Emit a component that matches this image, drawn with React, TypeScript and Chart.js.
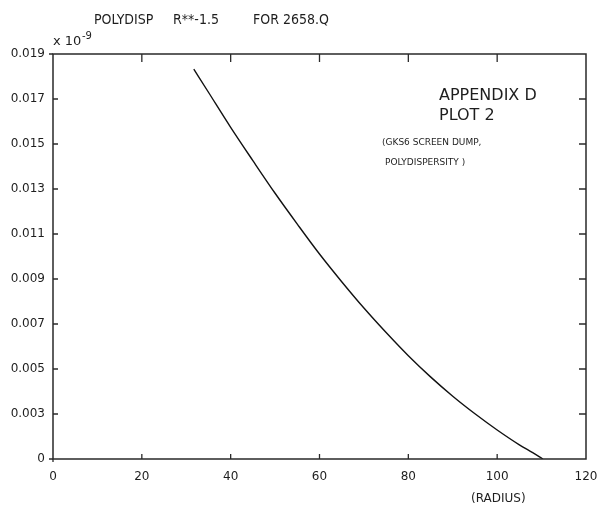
import React, { useEffect, useRef } from "react";
import { Chart, registerables } from "chart.js";

Chart.register(...registerables);

// ---- data ----
const radius = [31.7, 35, 40, 45, 50, 55, 60, 65, 70, 75, 80, 85, 90, 95, 100, 105, 108, 110.3];
const polydisp = [0.01733, 0.0163, 0.01474, 0.01326, 0.01181, 0.01044, 0.00911, 0.00788, 0.00671, 0.00562, 0.00459, 0.00365, 0.00279, 0.00201, 0.00129, 0.00063, 0.00028, 0.0];
const xTickValues = [0, 20, 40, 60, 80, 100, 120];
const yTickLabels = ["0", "0.003", "0.005", "0.007", "0.009", "0.011", "0.013", "0.015", "0.017", "0.019"];
const titleParts = ["POLYDISP", "R**-1.5", "FOR 2658.Q"];
const xAxisNote = "(RADIUS)";
const noteLines = ["APPENDIX D", "PLOT 2", "(GKS6 SCREEN DUMP,", "POLYDISPERSITY )"];

const INK = "#1e1e1e";

const framePlugin = {
  id: "frameAndNotes",
  afterDraw(chart: any) {
    const { ctx, chartArea } = chart;
    const { left, right, top, bottom } = chartArea;
    const xs = chart.scales.x;
    const ys = chart.scales.y;
    ctx.save();
    ctx.strokeStyle = "#2a2a2a";
    ctx.lineWidth = 1.5;
    ctx.beginPath();
    ctx.rect(left, top, right - left, bottom - top);
    ctx.stroke();
    ctx.lineWidth = 1.3;
    ctx.beginPath();
    xTickValues.forEach((v) => {
      if (v === 0 || v === 120) return;
      const px = xs.getPixelForValue(v);
      ctx.moveTo(px, bottom);
      ctx.lineTo(px, bottom - 5);
      ctx.moveTo(px, top);
      ctx.lineTo(px, top + 8);
    });
    yTickLabels.forEach((_, i) => {
      if (i === 0 || i === yTickLabels.length - 1) return;
      const py = ys.getPixelForValue(i * 0.002);
      ctx.moveTo(left, py);
      ctx.lineTo(left + 5, py);
      ctx.moveTo(right, py);
      ctx.lineTo(right - 7, py);
    });
    ctx.moveTo(left - 4, top);
    ctx.lineTo(left, top);
    ctx.moveTo(left - 4, bottom);
    ctx.lineTo(left, bottom);
    ctx.moveTo(left, bottom);
    ctx.lineTo(left, bottom + 3);
    ctx.stroke();

    ctx.fillStyle = INK;
    ctx.textBaseline = "middle";
    ctx.textAlign = "left";
    ctx.font = "14px 'Liberation Sans Narrow', 'DejaVu Sans Condensed', sans-serif";
    ctx.fillText(titleParts[0], 94, 20);
    ctx.fillText(titleParts[1], 173, 20);
    ctx.fillText(titleParts[2], 253, 20);

    ctx.font = "13px 'DejaVu Sans', sans-serif";
    ctx.fillText("x 10", 53, 42);
    ctx.font = "10px 'DejaVu Sans', sans-serif";
    ctx.fillText("-9", 82, 36);

    ctx.font = "16px 'DejaVu Sans', sans-serif";
    ctx.fillText(noteLines[0], 439, 96);
    ctx.fillText(noteLines[1], 439, 116);
    ctx.font = "9px 'DejaVu Sans', sans-serif";
    ctx.fillText(noteLines[2], 382, 143);
    ctx.fillText(noteLines[3], 385, 163);

    ctx.font = "12px 'DejaVu Sans', sans-serif";
    ctx.fillText(xAxisNote, 471, 499);
    ctx.restore();
  },
};

export default function App() {
  const ref = useRef<HTMLCanvasElement>(null);
  useEffect(() => {
    if (!ref.current) return;
    const chart = new Chart(ref.current, {
      type: "line",
      data: {
        datasets: [
          {
            data: radius.map((r, i) => ({ x: r, y: polydisp[i] })),
            borderColor: "#111",
            borderWidth: 1.4,
            pointRadius: 0,
            cubicInterpolationMode: "monotone",
            fill: false,
          },
        ],
      },
      options: {
        responsive: false,
        animation: false,
        layout: { padding: { top: 54, right: 12, left: 0, bottom: 0 } },
        plugins: { legend: { display: false }, tooltip: { enabled: false }, title: { display: false } },
        scales: {
          x: {
            type: "linear",
            min: 0,
            max: 120,
            afterBuildTicks: (s: any) => {
              s.ticks = xTickValues.map((v) => ({ value: v }));
            },
            afterFit: (s: any) => {
              s.height = 55;
              s.paddingLeft = 0;
              s.paddingRight = 0;
            },
            grid: { display: false, drawTicks: false },
            border: { display: false },
            ticks: {
              color: INK,
              font: { family: "'DejaVu Sans', sans-serif", size: 12 },
              padding: 11,
              maxRotation: 0,
              callback: (v: any) => String(v),
            },
          },
          y: {
            type: "linear",
            min: 0,
            max: 0.018,
            afterBuildTicks: (s: any) => {
              s.ticks = yTickLabels.map((_, i) => ({ value: i * 0.002 }));
            },
            afterFit: (s: any) => {
              s.width = 53;
              s.paddingTop = 0;
              s.paddingBottom = 0;
            },
            grid: { display: false, drawTicks: false },
            border: { display: false },
            ticks: {
              color: INK,
              font: { family: "'DejaVu Sans', sans-serif", size: 12 },
              padding: 8,
              callback: (_v: any, i: number) => yTickLabels[i],
            },
          },
        },
      },
      plugins: [framePlugin],
    });
    return () => chart.destroy();
  }, []);
  return (
    <div style={{ position: "absolute", left: 0, top: 0, width: 598, height: 514, background: "#fff" }}>
      <canvas ref={ref} width={598} height={514} style={{ display: "block" }} />
    </div>
  );
}
